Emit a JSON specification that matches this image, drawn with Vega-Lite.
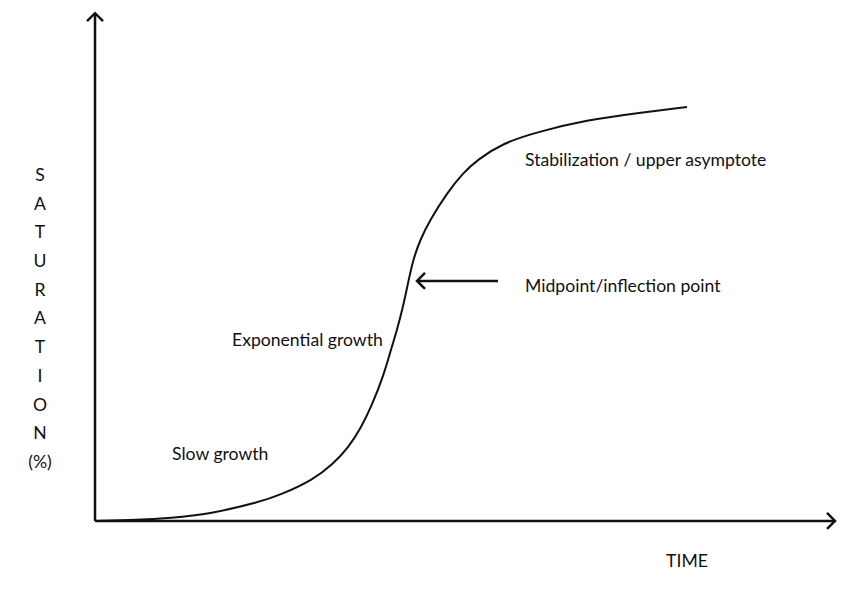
{
  "$schema": "https://vega.github.io/schema/vega-lite/v6.json",
  "width": 850,
  "height": 598,
  "autosize": {"type": "fit", "contains": "padding"},
  "padding": 0,
  "background": "white",
  "config": {"view": {"stroke": null}},
  "datasets": {
    "curve": [
      {"time": 0, "sat": 0}, {"time": 7.09, "sat": 0.23}, {"time": 12.67, "sat": 0.7},
      {"time": 19.43, "sat": 1.64}, {"time": 27.87, "sat": 4.46}, {"time": 31.25, "sat": 6.1},
      {"time": 36.82, "sat": 9.62}, {"time": 40.2, "sat": 13.38}, {"time": 42.74, "sat": 17.14},
      {"time": 44.93, "sat": 21.83}, {"time": 46.79, "sat": 27.23}, {"time": 48.65, "sat": 33.8},
      {"time": 49.83, "sat": 39.44}, {"time": 51.01, "sat": 44.84}, {"time": 52.03, "sat": 50.23},
      {"time": 52.87, "sat": 55.87}, {"time": 53.72, "sat": 61.27}, {"time": 54.9, "sat": 65.96},
      {"time": 56.59, "sat": 70.66}, {"time": 59.46, "sat": 77.0}, {"time": 62.16, "sat": 81.69},
      {"time": 64.53, "sat": 84.74}, {"time": 68.92, "sat": 88.73},
      {"time": 74.66, "sat": 91.31}, {"time": 83.11, "sat": 94.13}, {"time": 91.55, "sat": 95.77},
      {"time": 100, "sat": 97.18}
    ],
    "segments": [
      {"x1": 0, "y1": 0, "x2": 125, "y2": 0},
      {"x1": 0, "y1": 0, "x2": 0, "y2": 119.2},
      {"x1": 54.39, "y1": 56.34, "x2": 68.07, "y2": 56.34}
    ],
    "heads": [
      {"x": 125, "y": 0, "shape": "M-1,-1L0,0L-1,1"},
      {"x": 0, "y": 119.2, "shape": "M-1,1L0,0L1,1"},
      {"x": 54.39, "y": 56.34, "shape": "M1,-1L0,0L1,1"}
    ],
    "labels": [
      {"x": 72.64, "y": 84.51, "label": "Stabilization / upper asymptote"},
      {"x": 72.64, "y": 54.93, "label": "Midpoint/inflection point"},
      {"x": 23.14, "y": 42.25, "label": "Exponential growth"},
      {"x": 13.01, "y": 15.49, "label": "Slow growth"}
    ],
    "centered": [
      {"x": 100, "y": -9.62, "label": "TIME"},
      {"x": -9.29, "y": 80.99, "label": "S"},
      {"x": -9.29, "y": 74.25, "label": "A"},
      {"x": -9.29, "y": 67.51, "label": "T"},
      {"x": -9.29, "y": 60.77, "label": "U"},
      {"x": -9.29, "y": 54.04, "label": "R"},
      {"x": -9.29, "y": 47.3, "label": "A"},
      {"x": -9.29, "y": 40.56, "label": "T"},
      {"x": -9.29, "y": 33.83, "label": "I"},
      {"x": -9.29, "y": 27.09, "label": "O"},
      {"x": -9.29, "y": 20.35, "label": "N"},
      {"x": -9.29, "y": 13.62, "label": "(%)"}
    ]
  },
  "layer": [
    {
      "data": {"name": "segments"},
      "mark": {"type": "rule", "color": "#111", "strokeWidth": 2.5},
      "encoding": {
        "x": {"field": "x1", "type": "quantitative", "scale": {"domain": [-16.05, 127.53], "nice": false, "zero": false}, "axis": null},
        "y": {"field": "y1", "type": "quantitative", "scale": {"domain": [-18.08, 122.3], "nice": false, "zero": false}, "axis": null},
        "x2": {"field": "x2"},
        "y2": {"field": "y2"}
      }
    },
    {
      "data": {"name": "heads"},
      "mark": {"type": "point", "filled": false, "color": "#111", "strokeWidth": 2.5, "size": 256, "opacity": 1},
      "encoding": {
        "x": {"field": "x", "type": "quantitative"},
        "y": {"field": "y", "type": "quantitative"},
        "shape": {"field": "shape", "type": "nominal", "scale": null}
      }
    },
    {
      "data": {"name": "curve"},
      "mark": {"type": "line", "color": "#111", "strokeWidth": 2, "interpolate": "basis"},
      "encoding": {
        "x": {"field": "time", "type": "quantitative"},
        "y": {"field": "sat", "type": "quantitative"}
      }
    },
    {
      "data": {"name": "labels"},
      "mark": {"type": "text", "align": "left", "baseline": "middle", "font": "Lato", "fontSize": 17.6, "color": "#111"},
      "encoding": {
        "x": {"field": "x", "type": "quantitative"},
        "y": {"field": "y", "type": "quantitative"},
        "text": {"field": "label"}
      }
    },
    {
      "data": {"name": "centered"},
      "mark": {"type": "text", "align": "center", "baseline": "middle", "font": "Lato", "fontSize": 17.6, "color": "#111"},
      "encoding": {
        "x": {"field": "x", "type": "quantitative"},
        "y": {"field": "y", "type": "quantitative"},
        "text": {"field": "label"}
      }
    }
  ]
}
